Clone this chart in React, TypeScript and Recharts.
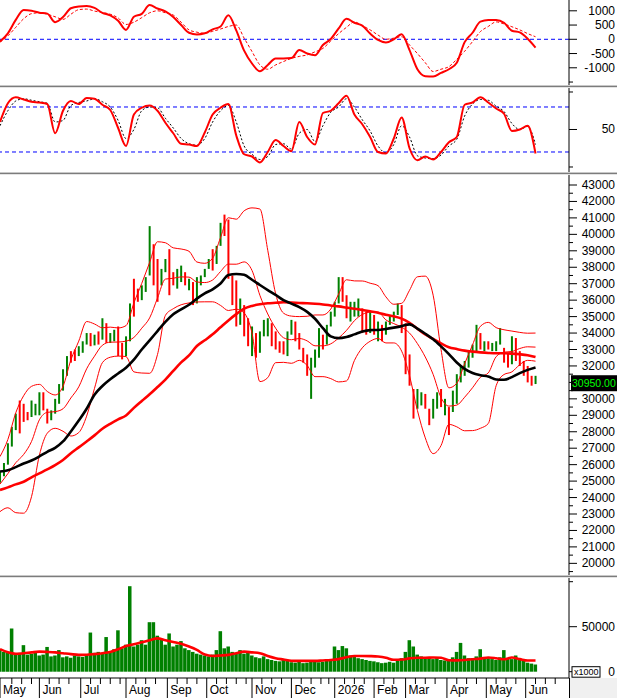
import React from "react";
import { ComposedChart, Bar, Line, XAxis, YAxis, ReferenceLine, Cell } from "recharts";

// price bars, one per two sessions (t = 0, 2, 4 ...)
const priceHigh = [
  25600, 26100, 27300, 28300, 29100, 29900, 29700, 29200, 29900, 29700,
  30400, 30400, 29400, 29300, 30000, 30900, 31800, 32600, 32900, 33000,
  33200, 33500, 34000, 34000, 33900, 34100, 34900, 34600, 34000, 34200,
  34400, 33400, 33800, 35800, 37300, 36700, 36900, 37400, 40500, 39400,
  38500, 37900, 38500, 39100, 37700, 37900, 38100, 37700, 37300, 37100,
  37400, 37500, 37900, 38500, 39100, 39300, 40700, 41200, 40900, 37500,
  37200, 36100, 35700, 34900, 34400, 34000, 34100, 34800, 34900, 34600,
  34100, 33500, 33500, 34100, 34800, 34700, 34000, 33100, 32700, 32500,
  33000, 34300, 33900, 34500, 35300, 35900, 37400, 37400, 36300, 35900,
  35900, 36100, 35500, 35300, 35300, 35100, 34700, 34500, 34700, 35100,
  35300, 35800, 35700, 34600, 32700, 30600, 30600, 30400, 30300, 29400,
  30000, 30400, 30600, 30000, 29500, 30500, 31500, 32000, 32300, 32900,
  33300, 34500, 34000, 33500, 33500, 33400, 33500, 34300, 33100, 32800,
  33800, 33700, 32900, 32300, 32000, 31400, 31400,
];
const priceLow = [
  24900, 25300, 26000, 27100, 28100, 27900, 28600, 28700, 28900, 29000,
  29000, 29300, 28500, 28700, 29100, 29700, 30500, 31400, 32200, 32300,
  32600, 32800, 33300, 33200, 33250, 33300, 33600, 33400, 33400, 33500,
  32600, 32400, 32600, 33500, 35000, 35900, 36000, 36500, 37500, 36900,
  35900, 36900, 37700, 36300, 36900, 36700, 37100, 36900, 36600, 35700,
  35800, 36900, 37400, 37900, 37800, 38200, 39300, 39900, 37300, 35700,
  34400, 34500, 33800, 33200, 32600, 32500, 32800, 33800, 33800, 33200,
  33000, 32800, 32700, 32600, 33900, 33500, 33000, 32200, 31400, 30000,
  31900, 32500, 33000, 33300, 34400, 35000, 35800, 35900, 34900, 34700,
  35000, 35000, 34000, 33900, 34000, 33900, 33500, 33500, 33900, 34500,
  34700, 35100, 34000, 31500, 30800, 28800, 29400, 29600, 29400, 28400,
  28800, 29400, 29500, 29000, 27800, 29200, 29700, 31000, 31400, 31900,
  32500, 32900, 33000, 32900, 33000, 32900, 32900, 33300, 32200, 31900,
  32100, 32300, 32000, 31400, 31000, 30800, 30900,
];
// G = up bar, R = down bar
const candleDir =
  "GGGGGRRRGG" + "GRRGGGGGRR" + "GGGRGRGRGG" + "RRGGRRGGGR" + "RGGRRGGRGR" +
  "GGGGRGGRRR" + "RGRRGRGGGR" + "RRRGGRRRRG" + "GGRGGGGRRG" + "GGRRGRGRGG" +
  "GGRRRRGGRR" + "GGRGRGGGGG" + "GGRGRGGGRR" + "GRRRRRG";
const volume = [
  24000, 22000, 21000, 48000, 20000, 21000, 29500, 19000, 20000, 22000,
  18000, 19000, 27500, 17000, 18000, 24000, 16000, 17000, 15500, 18000,
  17000, 16500, 19000, 43500, 21000, 22000, 20000, 38500, 22000, 25000,
  46000, 26000, 30000, 95000, 28000, 30000, 35000, 30000, 55000, 55000,
  40000, 36000, 30000, 42500, 28000, 30000, 34000, 26000, 24000, 22000,
  20000, 19000, 18000, 17000, 19000, 24000, 45000, 26000, 28000, 22000,
  21000, 24000, 20000, 22000, 18000, 16000, 15000, 17000, 14000, 13000,
  12000, 11500, 13000, 12000, 10500, 10000, 11000, 9500, 10000, 12500,
  11000, 10500, 11000, 12000, 13000, 28000, 24000, 28500, 26000, 18000,
  17000, 15000, 14000, 13000, 12000, 11500, 10500, 9500, 10000, 11000,
  10000, 12000, 15000, 22000, 35000, 28000, 19000, 17000, 15000, 16000,
  14000, 15000, 13000, 12500, 14000, 16000, 22000, 32000, 18000, 15000,
  15000, 17000, 25000, 16000, 15000, 14000, 13000, 16000, 24000, 15000,
  14000, 18000, 13000, 12000, 10000, 9000, 8000,
];

// indicators, one per four sessions (t = 0, 4, 8 ...)
const ma50 = [
  25580, 25660, 25850, 26070, 26250, 26500, 26780, 27020, 27410, 28020,
  28680, 29400, 30250, 30780, 31190, 31540, 31890, 32380, 33000, 33560,
  34120, 34680, 35140, 35440, 35720, 36090, 36410, 36660, 37010, 37530,
  37590, 37540, 37240, 36920, 36610, 36320, 36000, 35790, 35580, 35290,
  34870, 34300, 33800, 33690, 33760, 33920, 34090, 34180, 34190, 34250,
  34330, 34420, 34530, 34270, 33960, 33620, 33190, 32720, 32210, 31820,
  31570, 31440, 31360, 31180, 31160, 31320, 31560, 31760, 31910,
];
const ma200 = [
  24460, 24620, 24800, 24960, 25230, 25470, 25710, 25970, 26285, 26690,
  27050, 27410, 27780, 28180, 28480, 28750, 28990, 29450, 29870, 30280,
  30720, 31170, 31700, 32220, 32640, 33210, 33560, 33920, 34350, 34770,
  35150, 35480, 35650, 35750, 35810, 35840, 35870, 35855, 35830, 35810,
  35780, 35740, 35680, 35620, 35550, 35480, 35400, 35320, 35240, 35110,
  35020, 34880, 34620, 34260, 33910, 33640, 33370, 33140, 33030, 32930,
  32870, 32825, 32790, 32770, 32770, 32750, 32710, 32650, 32540,
];
const bbUp = [
  26490, 27530, 29150, 30190, 30760, 30880, 30450, 30236, 30760, 32370,
  33510, 34700, 34550, 34320, 34360, 34310, 34450, 35830, 37020, 38290,
  39550, 39490, 39180, 39110, 38970, 38320, 38240, 38550, 39800, 41010,
  40920, 41430, 41610, 41540, 39030, 36390, 35210, 35030, 35000, 35020,
  35100, 35100, 35460, 36370, 37240, 37170, 37165, 37030, 36880, 36200,
  35750, 35808, 36600, 37420, 37460, 36300, 33000, 30670, 30946, 32140,
  33280, 34410, 34650, 34330, 34200, 34120, 34040, 33990, 34000,
];
const bbMid = [
  24817, 25455, 26115, 26620, 27405, 28725, 29180, 29223, 29395, 30055,
  30730, 31825, 32595, 33260, 33445, 33455, 33510, 33735, 34295, 34920,
  36125, 37280, 37330, 37415, 37400, 37105, 37070, 37225, 37740, 38190,
  38185, 38325, 37805, 36295, 35160, 34295, 33715, 33595, 33670, 33525,
  33225, 33225, 33345, 33700, 34165, 34750, 35130, 35265, 35275, 34800,
  34575, 34355, 34000, 33360, 32545, 31485, 30080, 29560, 29620, 30100,
  30675, 31310, 31575, 32565, 32840, 32880, 33060, 33165, 33145,
];
const bbLow = [
  23144, 23380, 23080, 23050, 24050, 26570, 27910, 28210, 28030, 27740,
  27950, 28950, 30640, 32200, 32530, 32600, 32570, 31640, 31570, 31553,
  32700, 35070, 35480, 35720, 35830, 35890, 35900, 35900, 35680, 35370,
  35450, 35220, 34000, 31050, 31290, 32200, 32220, 32161, 32340, 32030,
  31350, 31350, 31230, 31030, 31090, 32330, 33100, 33500, 33670, 33400,
  33400, 32900, 31400, 29300, 27630, 26670, 27160, 28450, 28300, 28060,
  28070, 28211, 28500, 30800, 31480, 31640, 32080, 32340, 32290,
];
const macd = [
  -80, 210, 680, 1030, 1005, 935, 900, 600, 780, 1090,
  1150, 1165, 1100, 930, 840, 650, 330, 790, 890, 1200,
  1080, 980, 780, 500, 230, 170, 210, 350, 450, 840,
  310, -400, -850, -1120, -900, -670, -670, -660, -380, -500,
  -560, -200, 10, 380, 720, 580, 480, 200, -20, -110,
  0, 180, -380, -1050, -1295, -1310, -1180, -1050, -820, -100,
  230, 620, 677, 677, 580, 300, 240, 20, -290,
];
const signal = [
  -100, 120, 420, 720, 900, 930, 880, 790, 700, 880,
  1040, 1060, 990, 940, 880, 750, 520, 600, 760, 930,
  1000, 930, 850, 600, 330, 250, 210, 280, 360, 450,
  500, 40, -430, -900, -1050, -900, -780, -670, -600, -550,
  -440, -320, -60, 200, 420, 610, 480, 330, 150, 0,
  40, 90, -200, -500, -820, -1130, -1050, -960, -700, -420,
  -80, 270, 450, 610, 540, 440, 330, 200, 90,
];
const stochK = [
  60, 85, 93, 90, 87, 86, 84, 45, 75, 88,
  84, 92, 91, 83, 76, 52, 28, 70, 79, 82,
  75, 59, 45, 31, 30, 28, 46, 70, 79, 84,
  42, 17, 14, 6, 20, 36, 28, 21, 60, 40,
  30, 72, 75, 85, 95, 70, 57, 40, 20, 18,
  38, 66, 25, 9, 14, 10, 20, 33, 40, 83,
  86, 93, 86, 78, 71, 48, 50, 55, 18,
];
const stochD = [
  55, 75, 88, 91, 89, 87, 85, 60, 62, 82,
  86, 88, 91, 87, 80, 62, 38, 50, 75, 80,
  79, 65, 52, 38, 31, 29, 38, 60, 75, 82,
  60, 28, 17, 10, 14, 30, 31, 24, 45, 50,
  34, 55, 73, 80, 91, 80, 63, 48, 28, 19,
  30, 55, 40, 15, 12, 11, 16, 28, 37, 68,
  84, 90, 89, 81, 74, 58, 50, 54, 30,
];
const volMa = [
  25000, 21500, 19800, 20500, 21500, 22300, 22000, 21500, 20500, 19500,
  18700, 18800, 19500, 20500, 22000, 24900, 28500, 30500, 32700, 35000,
  37000, 35000, 33000, 31000, 28000, 24200, 19000, 17500, 18000, 18700,
  20500, 22300, 21500, 20500, 17500, 15000, 13500, 12000, 12000, 12000,
  12000, 12500, 13000, 14000, 16000, 17500, 17500, 17300, 16800, 15500,
  13200, 13500, 14800, 15500, 15500, 15800, 15500, 12800, 12600, 13000,
  13800, 14500, 15800, 15000, 13800, 15700, 14000, 12400, 12400,
];

// axis ticks (session index)
const monthTicks = [0, 20, 41, 64, 85, 105, 128, 148, 170, 190, 206, 227, 247, 267];
const monthLabels = ["May", "Jun", "Jul", "Aug", "Sep", "Oct", "Nov", "Dec", "2026", "Feb", "Mar", "Apr", "May", "Jun"];
const weekTicks = [
  6, 11, 16, 25, 30, 35, 46, 51, 56, 61, 69, 74, 79, 90, 95, 100, 110, 115, 120, 125,
  133, 138, 143, 153, 158, 163, 167, 175, 180, 185, 195, 200, 211, 216, 221, 232, 237, 242,
  252, 257, 262, 272, 277, 282,
];
const priceTicks = [
  20000, 21000, 22000, 23000, 24000, 25000, 26000, 27000, 28000, 29000, 30000, 31000,
  32000, 33000, 34000, 35000, 36000, 37000, 38000, 39000, 40000, 41000, 42000, 43000,
];
const macdTicks = [1000, 500, 0, -500, -1000];
const stochLevels = [80, 20];
const lastClose = 30950;

const W = 617;
const AXIS_W = 48;
const X_MAX = 289;
const RED = "#ff0000";
const GREEN = "#008000";
const BLUE = "#0000ff";
const FONT = "'Liberation Sans', Arial, sans-serif";

const rows = priceHigh.map((hi, i) => {
  const row: Record<string, number | boolean> = {
    t: i * 2,
    hi,
    lo: priceLow[i],
    up: candleDir[i] === "G",
    vol: volume[i],
  };
  if (i % 2 === 0) {
    const k = i / 2;
    row.ma50 = ma50[k];
    row.ma200 = ma200[k];
    row.bbUp = bbUp[k];
    row.bbMid = bbMid[k];
    row.bbLow = bbLow[k];
    row.macd = macd[k];
    row.signal = signal[k];
    row.k = stochK[k];
    row.d = stochD[k];
    row.volMa = volMa[k];
  }
  return row;
});

const rightTick = (labelled: number[], fmt: (v: number) => string = String) => (p: any) => {
  const v = p.payload.value;
  const major = labelled.includes(v);
  return (
    <g>
      <line x1={p.x} y1={p.y} x2={p.x + (major ? 8 : 4)} y2={p.y} stroke="#000" />
      {major && (
        <text x={p.x + 46} y={p.y} dy={4} textAnchor="end" fontSize={12} fontFamily={FONT} fill="#000">
          {fmt(v)}
        </text>
      )}
    </g>
  );
};

const priceTick = (p: any) => {
  const v = p.payload.value;
  if (v === lastClose) {
    return (
      <g>
        <rect x={p.x + 2} y={p.y - 8} width={46} height={16} fill="#000" />
        <text x={p.x + 3} y={p.y} dy={4} fontSize={10.5} fontFamily={FONT} fill="#00ff00">
          30950.00
        </text>
      </g>
    );
  }
  const major = priceTicks.includes(v) && Math.abs(v - lastClose) > 300;
  return rightTick(major ? [v] : [])(p);
};

const volTick = (p: any) => {
  const v = p.payload.value;
  if (v === 0) {
    return (
      <g>
        <line x1={p.x} y1={p.y} x2={p.x + 3} y2={p.y} stroke="#000" />
        <rect x={p.x + 3} y={p.y - 5} width={28} height={10.5} fill="#fff" stroke="#000" />
        <text x={p.x + 5} y={p.y} dy={3.5} fontSize={9} fontFamily={FONT} fill="#000">
          x1000
        </text>
        <text x={p.x + 46} y={p.y} dy={4} textAnchor="end" fontSize={12} fontFamily={FONT} fill="#000">
          0
        </text>
      </g>
    );
  }
  return rightTick([50000])(p);
};

const bottomTick = (p: any) => {
  const v = p.payload.value;
  const m = monthTicks.indexOf(v);
  if (m < 0) {
    return <line x1={p.x} x2={p.x} y1={p.y} y2={p.y + 6} stroke="#000" />;
  }
  return (
    <g>
      <line x1={p.x} x2={p.x} y1={p.y} y2={p.y + 20} stroke="#000" />
      <text x={p.x + 3} y={p.y + 16} fontSize={12} fontFamily={FONT} fill="#000">
        {monthLabels[m]}
      </text>
    </g>
  );
};

const margin = { top: 0, right: 0, bottom: 0, left: 0 };

function HiddenX() {
  return <XAxis dataKey="t" type="number" domain={[0, X_MAX]} allowDataOverflow hide />;
}

function Separator() {
  return (
    <div style={{ height: 3, width: W, boxSizing: "border-box", background: "#7c7c7c", borderTop: "1px solid #c8c8c8", borderBottom: "1px solid #e4e4e4" }} />
  );
}

function yAxisProps(domain: number[], ticks: number[], tick: any) {
  return {
    orientation: "right" as const,
    width: AXIS_W,
    type: "number" as const,
    domain,
    allowDataOverflow: true,
    ticks,
    interval: 0,
    tick,
    tickLine: false,
    tickSize: 0,
    tickMargin: 0,
    axisLine: { stroke: "#000" },
  };
}

export default function App() {
  const priceAxisTicks = [...priceTicks, ...priceTicks.slice(1).map((v) => v - 500), 19500, lastClose];
  return (
    <div style={{ position: "relative", width: W, height: 698, background: "#fff", fontFamily: FONT, overflow: "hidden" }}>
      <style>{"body{margin:0}"}</style>

      <ComposedChart width={W} height={85} data={rows} margin={margin}>
        {HiddenX()}
        <YAxis {...yAxisProps([-1604, 1379], [...macdTicks, -1500], rightTick(macdTicks))} />
        <ReferenceLine y={0} stroke={BLUE} strokeDasharray="4 3" />
        <Line dataKey="signal" type="monotone" stroke={RED} strokeWidth={1} strokeDasharray="3 2" dot={false} activeDot={false} connectNulls isAnimationActive={false} />
        <Line dataKey="macd" type="monotone" stroke={RED} strokeWidth={2} dot={false} activeDot={false} connectNulls isAnimationActive={false} />
      </ComposedChart>
      <Separator />

      <ComposedChart width={W} height={84} data={rows} margin={margin}>
        {HiddenX()}
        <YAxis {...yAxisProps([-6.67, 105.33], [100, 50, 0], rightTick([50]))} />
        {stochLevels.map((lv) => (
          <ReferenceLine key={lv} y={lv} stroke={BLUE} strokeDasharray="4 3" />
        ))}
        <Line dataKey="d" type="monotone" stroke="#000" strokeWidth={1} strokeDasharray="2 2" dot={false} activeDot={false} connectNulls isAnimationActive={false} />
        <Line dataKey="k" type="monotone" stroke={RED} strokeWidth={2} dot={false} activeDot={false} connectNulls isAnimationActive={false} />
      </ComposedChart>
      <Separator />

      <ComposedChart width={W} height={400} data={rows} margin={margin}>
        {HiddenX()}
        <YAxis {...yAxisProps([19292, 43608], priceAxisTicks, priceTick)} />
        <Bar dataKey={(d: any) => [d.lo, d.hi]} barSize={2} isAnimationActive={false}>
          {rows.map((r, i) => (
            <Cell key={i} fill={r.up ? GREEN : RED} />
          ))}
        </Bar>
        <Line dataKey="bbUp" type="monotone" stroke={RED} strokeWidth={1} dot={false} activeDot={false} connectNulls isAnimationActive={false} />
        <Line dataKey="bbMid" type="monotone" stroke={RED} strokeWidth={1} dot={false} activeDot={false} connectNulls isAnimationActive={false} />
        <Line dataKey="bbLow" type="monotone" stroke={RED} strokeWidth={1} dot={false} activeDot={false} connectNulls isAnimationActive={false} />
        <Line dataKey="ma200" type="monotone" stroke={RED} strokeWidth={2.6} dot={false} activeDot={false} connectNulls isAnimationActive={false} />
        <Line dataKey="ma50" type="monotone" stroke="#000" strokeWidth={2.6} dot={false} activeDot={false} connectNulls isAnimationActive={false} />
      </ComposedChart>
      <Separator />

      <ComposedChart width={W} height={120} data={rows} margin={margin}>
        <XAxis
          dataKey="t"
          type="number"
          domain={[0, X_MAX]}
          allowDataOverflow
          height={20}
          ticks={[...monthTicks, ...weekTicks]}
          interval={0}
          tick={bottomTick}
          tickLine={false}
          tickSize={0}
          tickMargin={0}
          axisLine={{ stroke: "#000" }}
        />
        <YAxis {...yAxisProps([-7000, 104100], [100000, 50000, 0], volTick)} />
        <Bar dataKey="vol" fill={GREEN} barSize={4} isAnimationActive={false} />
        <Line dataKey="volMa" type="monotone" stroke={RED} strokeWidth={2.6} dot={false} activeDot={false} connectNulls isAnimationActive={false} />
      </ComposedChart>

      <div style={{ position: "absolute", left: 569, top: 678, width: 48, height: 20, background: "#f0f0f0", borderLeft: "1px solid #000", boxSizing: "border-box" }} />
    </div>
  );
}
